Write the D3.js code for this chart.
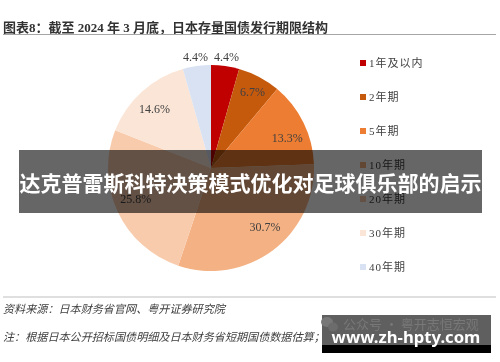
<!DOCTYPE html>
<html>
<head>
<meta charset="utf-8">
<script src="https://cdn.jsdelivr.net/npm/d3@7"></script>
<style>
html, body { margin: 0; padding: 0; background: #fff; }
svg { display: block; }
text { font-family: "Liberation Serif", "Noto Sans CJK SC", serif; }
</style>
</head>
<body>
<svg id="chart" width="500" height="362"></svg>
<script>
const categories = ["1年及以内", "2年期", "5年期", "10年期", "20年期", "30年期", "40年期"];
const shares = [4.4, 6.7, 13.3, 30.7, 25.8, 14.6, 4.4];
const colors = ["#c00000", "#c55a11", "#ed7d31", "#f4b183", "#f8cbad", "#fbe5d6", "#d9e2f3"];

// full-width punctuation written as escapes
const titleText = "图表8\uFF1A截至 2024 年 3 月底\uFF0C日本存量国债发行期限结构";
const sourceText = "资料来源\uFF1A日本财务省官网\u3001粤开证券研究院";
const noteText = "注\uFF1A根据日本公开招标国债明细及日本财务省短期国债数据估算\uFF1B";
const bannerText = "达克普雷斯科特决策模式优化对足球俱乐部的启示";
const siteText = "www.zh-hpty.com";
const watermarkText = "公众号 · 粤开志恒宏观";

const svg = d3.select("#chart");
const CX = 211, CY = 168, R = 103;

// the source is a soft, rescaled screenshot
svg.append("defs").append("filter")
    .attr("id", "soft")
    .append("feGaussianBlur")
    .attr("stdDeviation", 0.45);

const g = svg.append("g").attr("filter", "url(#soft)");

g.append("text")
    .attr("x", 3).attr("y", 32)
    .attr("font-size", 13).attr("font-weight", "bold").attr("fill", "#333")
    .text(titleText);

g.append("line")
    .attr("x1", 3).attr("x2", 496).attr("y1", 34.5).attr("y2", 34.5)
    .attr("stroke", "#a6a6a6").attr("stroke-width", 1);

const pie = d3.pie().sort(null).value(d => d)(shares);
const arc = d3.arc().innerRadius(0).outerRadius(R);
const pieGroup = g.append("g").attr("transform", `translate(${CX},${CY})`);

pieGroup.selectAll("path")
    .data(pie)
    .join("path")
    .attr("d", arc)
    .attr("fill", (d, i) => colors[i]);

// small slices carry their label outside the pie; the rest were hand placed in the source
const labelRadius = d => d.value < 5 ? 112 : 82;
const labelNudge = [[0, 0], [3, -3.5], [2.5, 6], [5, -6.5], [-1, -3.5], [-1.5, 1.5], [0, 0]];
pieGroup.selectAll("text")
    .data(pie)
    .join("text")
    .attr("transform", (d, i) => {
        const a = (d.startAngle + d.endAngle) / 2;
        const x = Math.sin(a) * labelRadius(d) + labelNudge[i][0];
        const y = -Math.cos(a) * labelRadius(d) + labelNudge[i][1];
        return `translate(${x},${y})`;
    })
    .attr("text-anchor", "middle")
    .attr("dy", "0.35em")
    .attr("font-size", 12)
    .attr("fill", "#404040")
    .text(d => d.value.toFixed(1) + "%");

const legendY = d3.scalePoint().domain(categories).range([63, 267]);
const legend = g.selectAll("g.legend")
    .data(categories)
    .join("g")
    .attr("class", "legend")
    .attr("transform", d => `translate(360,${legendY(d)})`);

legend.append("rect")
    .attr("y", -3).attr("width", 6).attr("height", 6)
    .attr("fill", (d, i) => colors[i]);

legend.append("text")
    .attr("x", 9).attr("dy", "0.36em")
    .attr("font-size", 11).attr("letter-spacing", 1).attr("fill", "#404040")
    .text(d => d);

g.append("line")
    .attr("x1", 3).attr("x2", 496).attr("y1", 297).attr("y2", 297)
    .attr("stroke", "#bfbfbf").attr("stroke-width", 1);

g.append("text")
    .attr("x", 3).attr("y", 313)
    .attr("font-size", 11.1).attr("font-style", "italic").attr("fill", "#404040")
    .text(sourceText);

g.append("text")
    .attr("x", 3).attr("y", 341)
    .attr("font-size", 11.1).attr("font-style", "italic").attr("fill", "#404040")
    .text(noteText);

// overlays added on top of the picture
const overlay = svg.append("g");

overlay.append("rect")
    .attr("x", 19).attr("y", 150).attr("width", 463).attr("height", 63)
    .attr("fill", "#000").attr("fill-opacity", 0.6);

overlay.append("text")
    .attr("x", 250.5).attr("y", 185)
    .attr("text-anchor", "middle").attr("dominant-baseline", "middle")
    .attr("font-size", 21).attr("font-weight", "bold").attr("fill", "#fff")
    .style("font-family", '"Noto Sans CJK SC", sans-serif')
    .text(bannerText);

overlay.append("rect")
    .attr("x", 322).attr("y", 315).attr("width", 169).attr("height", 30)
    .attr("fill", "#5f5f5f");

overlay.append("rect")
    .attr("x", 322).attr("y", 345).attr("width", 169).attr("height", 8)
    .attr("fill", "#000");

// faint wechat mark under the site address
overlay.append("ellipse")
    .attr("cx", 327).attr("cy", 322).attr("rx", 6).attr("ry", 5)
    .attr("fill", "#787878");
overlay.append("ellipse")
    .attr("cx", 333).attr("cy", 327).attr("rx", 5).attr("ry", 4.5)
    .attr("fill", "#6c6c6c");

overlay.append("text")
    .attr("x", 343).attr("y", 329)
    .attr("font-size", 13).attr("fill", "#787878")
    .style("font-family", '"Noto Sans CJK SC", sans-serif')
    .text(watermarkText);

overlay.append("text")
    .attr("x", 406).attr("y", 343)
    .attr("text-anchor", "middle")
    .attr("font-size", 16.7).attr("font-weight", "bold").attr("fill", "#fff")
    .style("font-family", '"Noto Sans", sans-serif')
    .text(siteText);
</script>
</body>
</html>
